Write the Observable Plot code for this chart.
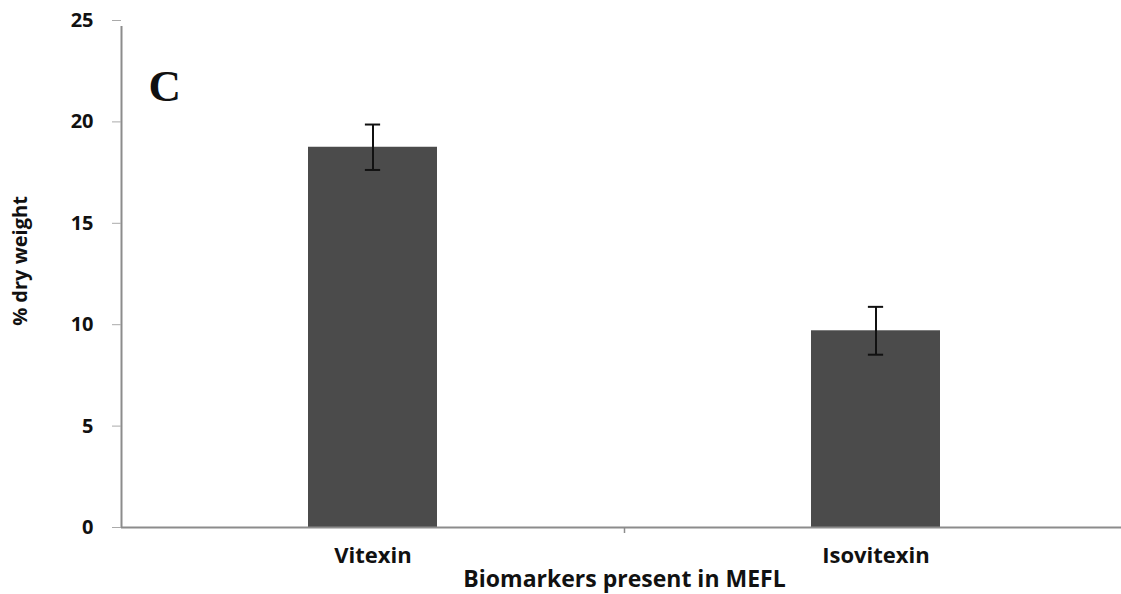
<!DOCTYPE html>
<html>
<head>
<meta charset="utf-8">
<script src="https://cdn.jsdelivr.net/npm/d3@7"></script>
<script src="https://cdn.jsdelivr.net/npm/@observablehq/plot@0.6"></script>
<style>
  html, body { margin: 0; padding: 0; background: #fff; }
  svg { display: block; }
</style>
</head>
<body>
<div id="chart"></div>
<script>
const categories = ["Vitexin", "Isovitexin"];
const values = [18.75, 9.7];
const errors = [1.12, 1.18];
const yTicks = [0, 5, 10, 15, 20, 25];
const panelLabel = "C";
const xTitle = "Biomarkers present in MEFL";
const yTitle = "% dry weight";

const data = categories.map((c, i) => ({cat: c, v: values[i], lo: values[i] - errors[i], hi: values[i] + errors[i]}));

const W = 1121, H = 594;
const mL = 121, mR = -6, mT = 20, mB = 67;
const step = (W - mL - mR) / categories.length;
const bw = step * 0.256;
const capW = 15;
const axisColor = "#8c8c8c";
const font = "'Open Sans', sans-serif";

const chart = Plot.plot({
  width: W,
  height: H,
  marginLeft: mL,
  marginRight: mR,
  marginTop: mT,
  marginBottom: mB,
  style: {fontFamily: font, background: "#fff", overflow: "visible"},
  x: {domain: categories, paddingInner: 0.744, paddingOuter: 0.372, align: 0.5},
  y: {domain: [0, 25]},
  marks: [
    Plot.barY(data, {x: "cat", y: "v", fill: "#4b4b4b"}),
    // axes lines
    Plot.ruleY([0], {stroke: axisColor, strokeWidth: 2}),
    Plot.ruleX([categories[0]], {dx: -step / 2, y1: 0, y2: 25, insetBottom: -6, stroke: axisColor, strokeWidth: 2}),
    Plot.ruleX(categories.slice(1), {dx: -step / 2, y1: 0, y2: 0, insetBottom: -6, stroke: axisColor, strokeWidth: 1.5}),
    Plot.axisY({ticks: yTicks, tickSize: 9, tickPadding: 19, stroke: "#aaa", fontSize: 20, fontWeight: "bold", fill: "#111", label: null, tickFormat: d => d}),
    Plot.axisX({tickSize: 0, tickPadding: 19.5, fontSize: 22, fontWeight: "bold", fill: "#111", label: null}),
    // error bars
    Plot.ruleX(data, {x: "cat", y1: "lo", y2: "hi", stroke: "#111", strokeWidth: 2}),
    Plot.tickY(data, {x: "cat", y: "hi", stroke: "#111", strokeWidth: 2, insetLeft: (bw - capW) / 2, insetRight: (bw - capW) / 2}),
    Plot.tickY(data, {x: "cat", y: "lo", stroke: "#111", strokeWidth: 2, insetLeft: (bw - capW) / 2, insetRight: (bw - capW) / 2}),
    // titles
    Plot.text([xTitle], {frameAnchor: "bottom", lineAnchor: "top", dy: 43.5, fontSize: 23, fontWeight: "bold", fill: "#111"}),
    Plot.text([yTitle], {frameAnchor: "left", textAnchor: "middle", rotate: -90, dx: -101, dy: -13, fontSize: 20, fontWeight: "bold", fill: "#111"}),
    Plot.text([panelLabel], {frameAnchor: "top-left", textAnchor: "start", lineAnchor: "bottom", dx: 27, dy: 80, fontSize: 45, fontWeight: "bold", fontFamily: "'Liberation Serif', serif", fill: "#111"})
  ]
});
document.getElementById("chart").appendChild(chart);
</script>
</body>
</html>
